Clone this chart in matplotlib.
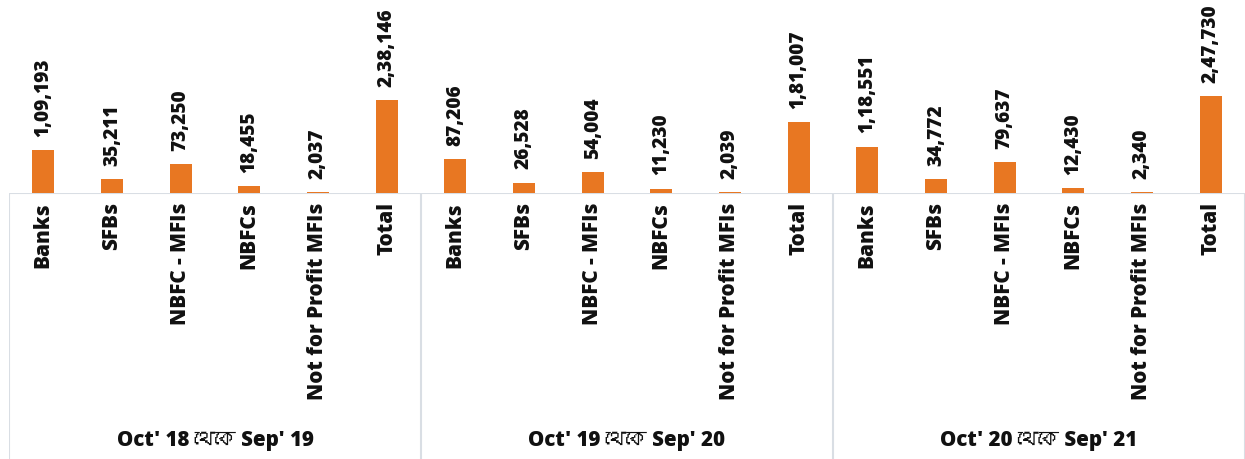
import matplotlib
matplotlib.use("Agg")
import matplotlib.pyplot as plt
from matplotlib import font_manager
from matplotlib.ft2font import FT2Font

# ---- data ----
periods = ["Oct' 18 থেকে Sep' 19", "Oct' 19 থেকে Sep' 20", "Oct' 20 থেকে Sep' 21"]
categories = ["Banks", "SFBs", "NBFC - MFIs", "NBFCs", "Not for Profit MFIs", "Total"]
values_1819 = [109193, 35211, 73250, 18455, 2037, 238146]
values_1920 = [87206, 26528, 54004, 11230, 2039, 181007]
values_2021 = [118551, 34772, 79637, 12430, 2340, 247730]
labels_1819 = ["1,09,193", "35,211", "73,250", "18,455", "2,037", "2,38,146"]
labels_1920 = ["87,206", "26,528", "54,004", "11,230", "2,039", "1,81,007"]
labels_2021 = ["1,18,551", "34,772", "79,637", "12,430", "2,340", "2,47,730"]

# ---- fonts ----
def find_bengali_family():
    seen = set()
    for f in font_manager.fontManager.ttflist:
        if f.name in seen:
            continue
        seen.add(f.name)
        try:
            cm = FT2Font(f.fname).get_charmap()
            if 0x09A5 in cm and 0x0995 in cm:
                return f.name
        except Exception:
            pass
    return None

beng = find_bengali_family()
families = ["Open Sans", "DejaVu Sans"]
if beng:
    families = ["Open Sans", beng, "DejaVu Sans"]
plt.rcParams["font.family"] = families

bar_color = "#E87722"
line_color = "#D9DEE4"
text_color = "#111111"

W, H = 1245, 459
fig = plt.figure(figsize=(W / 100, H / 100), dpi=100)
base_px = 193
ax = fig.add_axes([9 / W, 1 - base_px / H, (W - 9) / W, base_px / H])

all_vals = values_1819 + values_1920 + values_2021
all_labels = labels_1819 + labels_1920 + labels_2021
n = len(all_vals)
xs = list(range(n))
ax.bar(xs, all_vals, width=0.32, color=bar_color, zorder=3)
ax.set_xlim(-0.5, n - 0.5)
ax.set_ylim(0, 247730 * 193 / 97)
ax.axis("off")

for x, v, lab in zip(xs, all_vals, all_labels):
    ax.annotate(lab, (x, v), xytext=(0, 9.5), textcoords="offset points",
                rotation=90, ha="center", va="bottom", fontsize=13.7,
                fontweight="heavy", color=text_color)

# lower area axes (category labels and period labels)
ax2 = fig.add_axes([9 / W, 0, (W - 9) / W, 1 - base_px / H])
ax2.set_xlim(-0.5, n - 0.5)
ax2.set_ylim(0, 1)
ax2.axis("off")
ax2.axhline(1, color=line_color, lw=1.5)
ng = len(categories)
for g in range(len(periods) + 1):
    ax2.axvline(g * ng - 0.5, color=line_color, lw=1.5)
for i, x in enumerate(xs):
    ax2.text(x, 0.965, categories[i % ng], rotation=90, ha="center", va="top",
             fontsize=14.9, fontweight="heavy", color=text_color)
for g, p in enumerate(periods):
    ax2.text(g * ng + (ng - 1) / 2, 0.07, p, ha="center", va="center",
             fontsize=14.8, fontweight="heavy", color=text_color)

fig.savefig("out.png", dpi=100)
